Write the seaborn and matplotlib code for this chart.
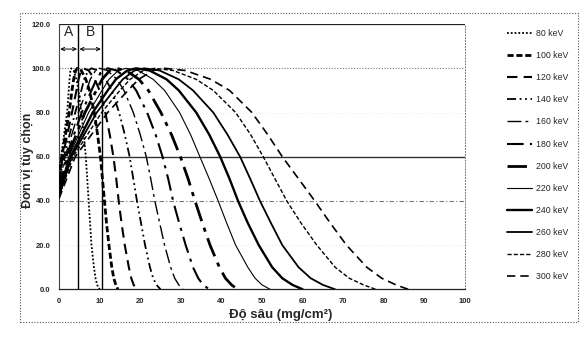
import numpy as np
import pandas as pd
import matplotlib
matplotlib.use("Agg")
import matplotlib.pyplot as plt
from matplotlib.lines import Line2D
from matplotlib.patches import Rectangle
import seaborn as sns

# ---------------- data ----------------
ENERGIES = ["80 keV", "100 keV", "120 keV", "140 keV", "160 keV", "180 keV",
            "200 keV", "220 keV", "240 keV", "260 keV", "280 keV", "300 keV"]

# dose at depth 0 for each energy
START_DOSE = [52, 50, 49, 48, 47, 46, 45, 44, 43, 42, 42, 41]

# dose levels shared by every curve (after the start value)
DOSE_LEVELS = [60, 80, 90, 95, 99, 100, 99, 95, 90, 80, 70, 60, 50, 40, 30, 20, 10, 5, 2, 0]

# depth (mg/cm2) at which each curve passes the levels above (first entry: depth 0)
DEPTH_80 = [0, 0.5, 2.0, 2.4, 2.6, 2.8, 3.0, 3.6, 4.3, 4.8, 5.5, 6.1, 6.6, 6.95, 7.3, 7.65, 8.0, 8.6, 9.0, 9.4, 10.0]
DEPTH_100 = [0, 0.7, 2.5, 3.2, 3.6, 4.1, 4.5, 5.5, 6.6, 7.5, 8.7, 9.5, 10.2, 10.7, 11.2, 11.7, 12.3, 13.0, 13.5, 14.0, 14.5]
DEPTH_120 = [0, 0.9, 3.2, 4.3, 4.8, 5.45, 6.0, 7.3, 8.8, 10.0, 11.4, 12.5, 13.4, 14.1, 14.7, 15.4, 16.2, 17.2, 17.8, 18.4, 19.0]
DEPTH_140 = [0, 1.2, 4.0, 5.5, 6.2, 7.2, 8.0, 9.6, 11.5, 13.0, 14.8, 16.2, 17.4, 18.3, 19.2, 20.2, 21.2, 22.4, 23.2, 24.0, 25.0]
DEPTH_160 = [0, 1.5, 4.8, 6.8, 7.7, 9.0, 10.0, 11.9, 14.3, 16.0, 18.3, 20.0, 21.5, 22.6, 23.6, 24.8, 26.0, 27.5, 28.5, 29.5, 30.5]
DEPTH_180 = [0, 1.8, 5.6, 8.0, 9.2, 10.7, 12.0, 14.2, 17.0, 19.0, 21.7, 23.8, 25.5, 26.9, 28.1, 29.6, 31.2, 33.0, 34.3, 35.5, 37.0]
DEPTH_200 = [0, 2.1, 6.4, 9.2, 10.6, 12.5, 14.0, 16.5, 19.7, 22.0, 25.1, 27.7, 29.9, 31.8, 33.5, 35.3, 37.2, 39.5, 41.0, 42.5, 44.0]
DEPTH_220 = [0, 2.4, 7.3, 10.6, 12.3, 14.6, 16.5, 19.5, 23.2, 26.0, 29.7, 32.4, 34.7, 37.0, 39.2, 41.3, 43.5, 46.5, 48.3, 50.0, 52.0]
DEPTH_240 = [0, 2.8, 8.3, 12.0, 14.0, 16.8, 19.0, 22.3, 26.5, 29.5, 33.8, 37.0, 39.7, 42.0, 44.1, 46.5, 49.2, 52.5, 55.0, 57.5, 60.0]
DEPTH_260 = [0, 3.1, 9.3, 13.5, 15.7, 18.6, 21.0, 24.8, 29.5, 33.0, 38.0, 41.5, 44.6, 47.1, 49.5, 52.2, 55.0, 59.0, 62.0, 65.0, 68.0]
DEPTH_280 = [0, 3.5, 10.5, 15.0, 17.5, 20.8, 23.5, 28.1, 33.8, 38.0, 43.5, 47.2, 50.3, 53.2, 56.1, 59.6, 63.5, 68.0, 71.5, 75.0, 78.0]
DEPTH_300 = [0, 4.0, 12.0, 17.0, 19.6, 23.2, 26.0, 31.1, 37.4, 42.0, 47.5, 51.4, 55.0, 59.0, 63.0, 66.8, 70.8, 75.8, 79.5, 83.0, 86.0]

DEPTHS = [DEPTH_80, DEPTH_100, DEPTH_120, DEPTH_140, DEPTH_160, DEPTH_180,
          DEPTH_200, DEPTH_220, DEPTH_240, DEPTH_260, DEPTH_280, DEPTH_300]

X_TICKS = [0, 10, 20, 30, 40, 50, 60, 70, 80, 90, 100]
Y_TICKS = [0, 20, 40, 60, 80, 100, 120]

REGION_EDGES = [4.75, 10.6]   # boundaries of regions A and B

# ---------------- styles ----------------
STYLES = [
    dict(lw=1.3, dashes=(1, 1.1)),            # 80 dotted
    dict(lw=2.0, dashes=(2.2, 1.0)),          # 100 heavy dash
    dict(lw=1.5, dashes=(5, 3)),              # 120 dash
    dict(lw=1.3, dashes=(5, 2, 1, 2, 1, 2)),  # 140 dash-dot-dot
    dict(lw=1.0, dashes=(10, 3, 2, 3)),       # 160
    dict(lw=1.5, dashes=(8, 3, 1.5, 3)),      # 180
    dict(lw=2.0, dashes=(7, 2.5, 1.5, 2.5)),  # 200
    dict(lw=0.8, dashes=None),                # 220 thin solid
    dict(lw=1.7, dashes=None),                # 240
    dict(lw=1.3, dashes=None),                # 260
    dict(lw=1.0, dashes=(3, 1.5)),            # 280
    dict(lw=1.2, dashes=(5, 3)),              # 300
]

rows = []
for e, s, d in zip(ENERGIES, START_DOSE, DEPTHS):
    doses = [s] + DOSE_LEVELS
    for x, y in zip(d, doses):
        rows.append(dict(energy=e, depth=x, dose=y))
df = pd.DataFrame(rows)

sns.set_theme(style="white")
plt.rcParams["font.family"] = ["Liberation Sans", "DejaVu Sans"]

W, H = 588, 338
fig = plt.figure(figsize=(W / 100, H / 100), dpi=100)
ax = fig.add_axes([59 / W, 1 - 289.3 / H, (465 - 59) / W, (289.3 - 24.1) / H])

# outer chart frame (dotted)
fig.patches.append(Rectangle((20 / W, 1 - 322 / H), (578 - 20) / W, (322 - 13) / H,
                             transform=fig.transFigure, fill=False,
                             edgecolor="#555555", lw=0.8, ls=(0, (1, 1.5))))

# gridlines
ax.axhline(120, color="#222222", lw=0.9, zorder=1)
ax.axhline(100, color="#777777", lw=0.8, ls=(0, (1, 1.5)), zorder=1)
ax.axhline(80, color="#dddddd", lw=0.6, ls=(0, (1, 3)), zorder=1)
ax.axhline(60, color="#333333", lw=1.0, zorder=1)
ax.axhline(40, color="#777777", lw=0.8, ls=(0, (4, 2, 1, 2)), zorder=1)
ax.axhline(20, color="#dddddd", lw=0.6, ls=(0, (1, 3)), zorder=1)

handles = []
for e, st in zip(ENERGIES, STYLES):
    sub = df[df["energy"] == e]
    sns.lineplot(data=sub, x="depth", y="dose", ax=ax, color="black",
                 lw=st["lw"], estimator=None, sort=False, legend=False, zorder=3)
    line = ax.lines[-1]
    line.set_solid_joinstyle("round")
    if st["dashes"] is not None:
        line.set_dashes(st["dashes"])
    h = Line2D([], [], color="black", lw=st["lw"])
    if st["dashes"] is not None:
        h.set_dashes(st["dashes"])
    handles.append(h)

# region lines A / B
for xe in REGION_EDGES:
    ax.axvline(xe, color="black", lw=1.0, zorder=4)
ax.text(REGION_EDGES[0] / 2, 116.3, "A", ha="center", va="center", fontsize=10)
ax.text((REGION_EDGES[0] + REGION_EDGES[1]) / 2, 116.3, "B", ha="center", va="center", fontsize=10)
ax.annotate("", xy=(0.3, 108.7), xytext=(REGION_EDGES[0] - 0.3, 108.7),
            arrowprops=dict(arrowstyle="<->", lw=0.7, color="black",
                            shrinkA=0, shrinkB=0, mutation_scale=6))
ax.annotate("", xy=(REGION_EDGES[0] + 0.3, 108.7), xytext=(REGION_EDGES[1] - 0.3, 108.7),
            arrowprops=dict(arrowstyle="<->", lw=0.7, color="black",
                            shrinkA=0, shrinkB=0, mutation_scale=6))

ax.set_xlim(0, 100)
ax.set_ylim(0, 120)
ax.set_xticks(X_TICKS)
ax.set_yticks(Y_TICKS)
ax.set_xticklabels([str(v) for v in X_TICKS], fontsize=5.5, fontweight="bold")
ax.set_yticklabels([f"{v:.1f}" for v in Y_TICKS], fontsize=5.5, fontweight="bold")
ax.tick_params(axis="both", length=0, pad=6)
ax.set_xlabel("")
ax.set_ylabel("")
ax.spines["top"].set_visible(False)
ax.spines["left"].set_color("#444444")
ax.spines["left"].set_linestyle((0, (1, 1)))
ax.spines["left"].set_linewidth(0.8)
ax.spines["right"].set_color("#777777")
ax.spines["right"].set_linestyle((0, (1, 2)))
ax.spines["right"].set_linewidth(0.7)
ax.spines["bottom"].set_color("#222222")
ax.spines["bottom"].set_linewidth(0.9)

# axis titles (placed as in the reference)
fig.text(281 / W, 1 - 315 / H, "Độ sâu (mg/cm²)", fontsize=9.5, fontweight="bold",
         ha="center", va="center")
fig.text(28 / W, 1 - 160 / H, "Đơn vị tùy chọn", fontsize=9, fontweight="bold",
         ha="center", va="center", rotation=90)

fig.legend(handles, ENERGIES, loc="upper left", bbox_to_anchor=(507 / W, 1 - 29 / H),
           frameon=False, fontsize=6.3, handlelength=2.9, handletextpad=0.4,
           labelspacing=1.5, borderaxespad=0, borderpad=0)

fig.savefig("out.png", dpi=100)
